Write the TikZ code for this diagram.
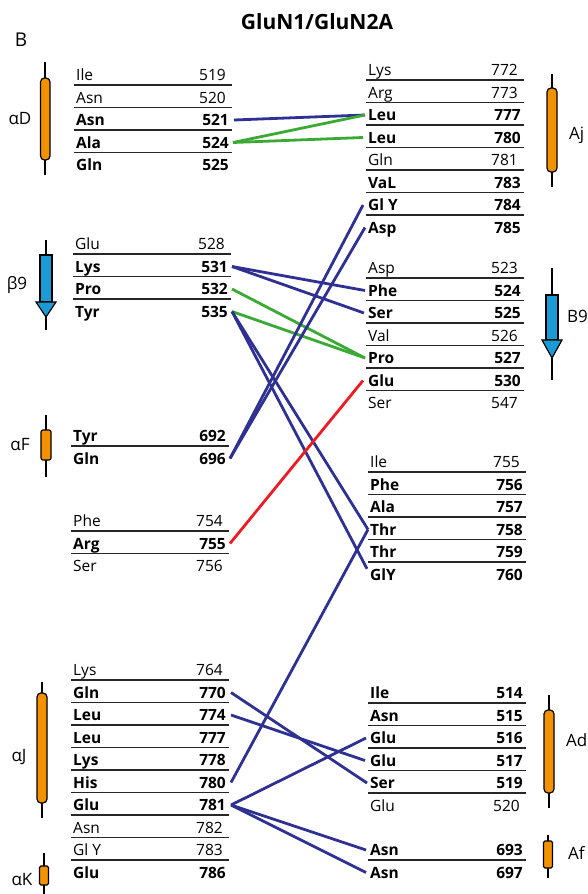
\documentclass[tikz,border=0pt]{standalone}
\usepackage{fontspec}
\setmainfont{Open Sans}
\usepackage{tikz}
\usetikzlibrary{positioning}

\definecolor{hbblue}{HTML}{2E3192}
\definecolor{hydgreen}{HTML}{3AAA35}
\definecolor{saltred}{HTML}{ED1C24}
\definecolor{helixorange}{HTML}{F39200}
\definecolor{strandblue}{HTML}{1C9AD6}

% one block of residues: prefix, left x, first row y, rows i/name/number/weight
\newcommand{\resblock}[4]{%
  \foreach \i/\res/\num/\f in {#4} {
    \node[res, \f, anchor=base west] (#1\num) at (#2, {#3+\i*22.5+5.5}) {\res};
    \node[res, \f, num shift, anchor=base east] (#1\num-n) at (#2+153, {#3+\i*22.5+5.5}) {\num};
    \ifnum\i>0 \draw[sep] (#2-2, {#3+\i*22.5-12.5}) -- (#2+156, {#3+\i*22.5-12.5}); \fi
  }%
}

\begin{document}
\begin{tikzpicture}[
    x=1pt, y=-1pt,
    res/.style={inner sep=0pt, text height=11pt, text depth=0pt},
    num shift/.style={},
    rn/.style={font=\fontsize{15.5}{17}\selectfont, num shift/.style={xshift=-3pt}},
    rb/.style={font=\fontsize{15.5}{17}\selectfont\bfseries},
    sep/.style={draw=black!85, line width=1.3pt},
    axis/.style={draw=black, line width=1.4pt},
    helix/.style={draw=black, fill=helixorange, line width=1.2pt, rounded corners=4pt},
    strand/.style={draw=black, fill=strandblue, line width=1.2pt},
    sslabel/.style={font=\fontsize{17}{19}\selectfont, inner sep=0pt},
    hb/.style={draw=hbblue, line width=2.8pt},
    hyd/.style={draw=hydgreen, line width=2.8pt},
    salt/.style={draw=saltred, line width=2.8pt}
]
\useasboundingbox (0,0) rectangle (587,894);

\node[font=\fontsize{21}{23}\selectfont\bfseries] (ttl) at (317,22) {GluN1/GluN2A};
\node[font=\fontsize{19}{21}\selectfont] (pB) at (21,40) {B};

% secondary structure, left
\draw[axis] (45,62) -- (45,175);
\draw[helix] (40.5,78) rectangle (50,160);
\node[sslabel] (lD) at (20,119) {αD};

\draw[axis] (46,240) -- (46,330);
\draw[strand] (40,255) rectangle (52,302);
\draw[strand] (36,302) -- (56,302) -- (46,317) -- cycle;
\node[sslabel] (l9) at (17,285) {β9};

\draw[axis] (46,415) -- (46,477);
\draw[helix, rounded corners=2pt] (41,430) rectangle (51,460);
\node[sslabel] (lF) at (20,445) {αF};

\draw[axis] (42,682) -- (42,818);
\draw[helix] (37,693) rectangle (47,803);
\node[sslabel] (lJ) at (19,757) {αJ};

\draw[axis] (44,853) -- (44,894);
\draw[helix, rounded corners=1.5pt] (39.5,866) rectangle (48.5,885);
\node[sslabel] (lK) at (22,880) {αK};

% secondary structure, right
\draw[axis] (552,74) -- (552,187);
\draw[helix] (547,88) rectangle (557,172);
\node[sslabel, anchor=west] (rj) at (569,135) {Aj};

\draw[axis] (552,268) -- (552,380);
\draw[strand] (546,295) rectangle (558,340);
\draw[strand] (542,340) -- (562,340) -- (552,358) -- cycle;
\node[sslabel, anchor=west] (r9) at (567,316) {B9};

\draw[axis] (549,695) -- (549,808);
\draw[helix] (544,710) rectangle (554,793);
\node[sslabel, anchor=west] (rd) at (566,740) {Ad};

\draw[axis] (548,835) -- (548,878);
\draw[helix, rounded corners=1.5pt] (543.5,841) rectangle (552.5,868);
\node[sslabel, anchor=west] (rf) at (568,853) {Af};

% residues, left
\resblock{a}{76}{75}{0/Ile/519/rn, 1/Asn/520/rn, 2/Asn/521/rb, 3/Ala/524/rb, 4/Gln/525/rb}
\resblock{a}{75}{244}{0/Glu/528/rn, 1/Lys/531/rb, 2/Pro/532/rb, 3/Tyr/535/rb}
\resblock{a}{73}{436}{0/Tyr/692/rb, 1/Gln/696/rb}
\resblock{a}{73}{521}{0/Phe/754/rn, 1/Arg/755/rb, 2/Ser/756/rn}
\resblock{a}{73}{670}{0/Lys/764/rn, 1/Gln/770/rb, 2/Leu/774/rb, 3/Leu/777/rb, 4/Lys/778/rb,
  5/His/780/rb, 6/Glu/781/rb, 7/Asn/782/rn, 8/Gl Y/783/rn, 9/Glu/786/rb}

% residues, right
\resblock{b}{368}{70}{0/Lys/772/rn, 1/Arg/773/rn, 2/Leu/777/rb, 3/Leu/780/rb, 4/Gln/781/rn,
  5/VaL/783/rb, 6/Gl Y/784/rb, 7/Asp/785/rb}
\resblock{b}{368}{268}{0/Asp/523/rn, 1/Phe/524/rb, 2/Ser/525/rb, 3/Val/526/rn, 4/Pro/527/rb,
  5/Glu/530/rb, 6/Ser/547/rn}
\resblock{b}{370}{462}{0/Ile/755/rn, 1/Phe/756/rb, 2/Ala/757/rb, 3/Thr/758/rb, 4/Thr/759/rb, 5/GlY/760/rb}
\resblock{b}{370}{693}{0/Ile/514/rb, 1/Asn/515/rb, 2/Glu/516/rb, 3/Glu/517/rb, 4/Ser/519/rb, 5/Glu/520/rn}
\resblock{b}{370}{850}{0/Asn/693/rb, 1/Asn/697/rb}

% contacts
\draw[hb] ([xshift=5pt]a521-n.east) -- ([xshift=-3pt]b777.west);
\draw[hyd] ([xshift=4pt]a524-n.east) -- ([xshift=-3pt]b777.west);
\draw[hyd] ([xshift=4pt]a524-n.east) -- ([xshift=-5pt]b780.west);
\draw[hb] ([xshift=4pt]a531-n.east) -- ([xshift=-3pt]b524.west);
\draw[hb] ([xshift=4pt]a531-n.east) -- ([xshift=-4pt]b525.west);
\draw[hyd] ([xshift=4pt]a532-n.east) -- ([xshift=-3pt]b527.west);
\draw[hyd] ([xshift=4pt]a535-n.east) -- ([xshift=-3pt]b527.west);
\draw[hb] ([xshift=4pt]a535-n.east) -- ([xshift=-2pt]b758.west);
\draw[hb] ([xshift=4pt]a535-n.east) -- ([xshift=-3pt]b760.north west);
\draw[hb] ([xshift=4pt]a696-n.east) -- ([xshift=-5pt]b784.west);
\draw[hb] ([xshift=4pt]a696-n.east) -- ([xshift=-3pt]b785.west);
\draw[salt] ([xshift=4pt]a755-n.east) -- ([xshift=-5pt]b530.west);
\draw[hb] ([xshift=5pt]a780-n.east) -- ([xshift=-2pt]b758.west);
\draw[hb] ([xshift=5pt]a770-n.east) -- ([xshift=-3pt]b519.west);
\draw[hb] ([xshift=5pt]a774-n.east) -- ([xshift=-5pt]b517.west);
\draw[hb] ([xshift=5pt]a781-n.east) -- ([xshift=-4pt]b516.west);
\draw[hb] ([xshift=5pt]a781-n.east) -- ([xshift=-4pt]b693.west);
\draw[hb] ([xshift=5pt]a781-n.east) -- ([xshift=-4pt]b697.west);
\end{tikzpicture}
\end{document}
